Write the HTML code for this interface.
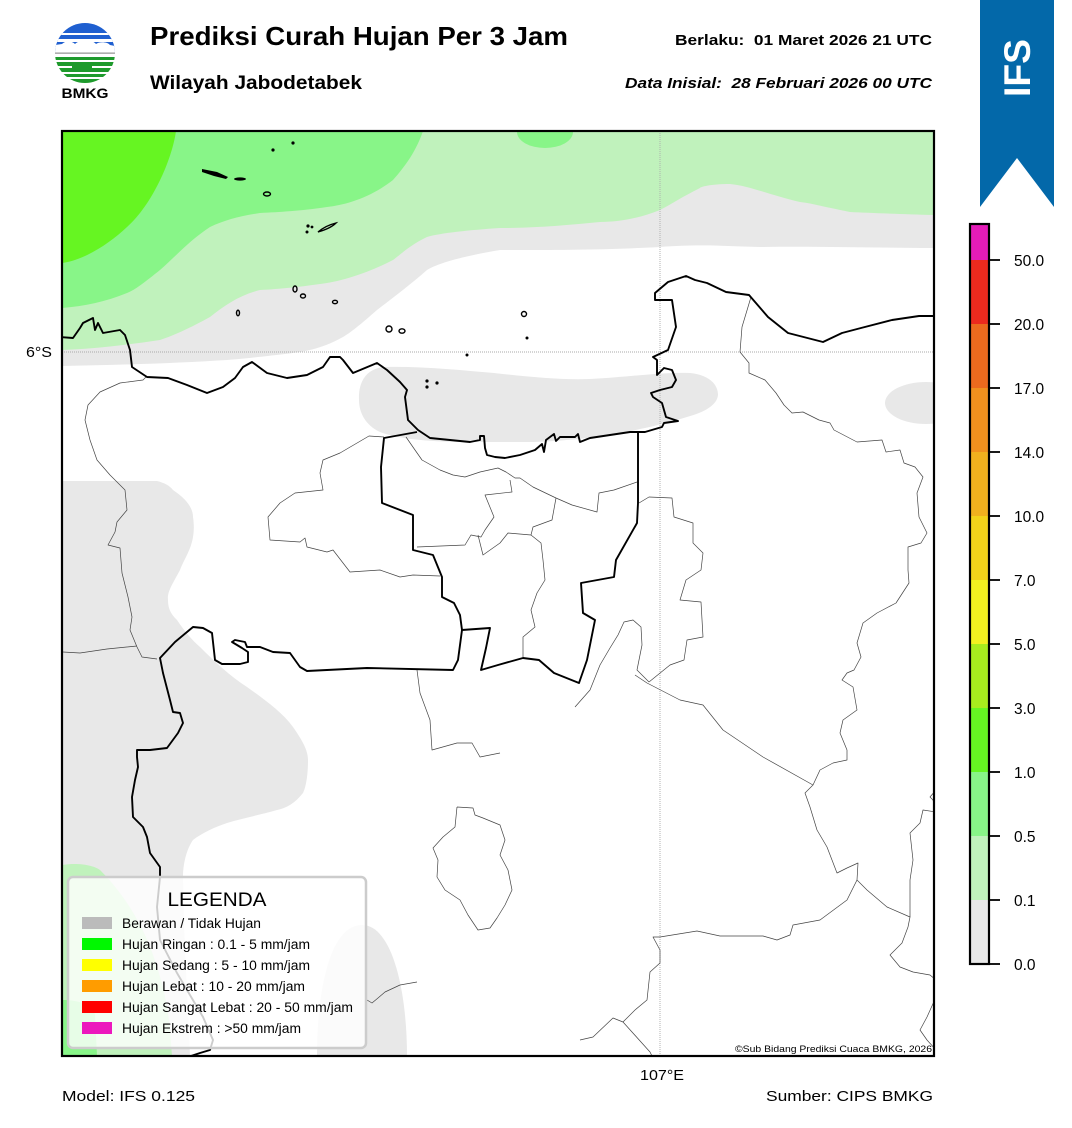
<!DOCTYPE html>
<html><head><meta charset="utf-8"><style>
html,body{margin:0;padding:0;background:#fff;}
svg{display:block;font-family:"Liberation Sans",Arial,sans-serif;}
</style></head><body>
<svg width="1072" height="1128" viewBox="0 0 1072 1128" xmlns="http://www.w3.org/2000/svg">
<defs>
<clipPath id="mapclip"><rect x="62" y="131" width="872" height="925"/></clipPath>
<clipPath id="logoclip"><circle cx="85" cy="53" r="30"/></clipPath>
</defs>
<rect width="1072" height="1128" fill="#fff"/>

<!-- Logo -->
<g clip-path="url(#logoclip)">
<rect x="55" y="23" width="60" height="30" fill="#1f5fd0"/>
<rect x="55" y="33" width="60" height="2" fill="#fff"/>
<rect x="55" y="39" width="60" height="3" fill="#fff"/>
<path d="M55,45 L62,44 C66,40 72,41 75,44 C80,39 92,39 96,44 C100,41 108,42 110,45 L115,46 L115,53 L55,53 Z" fill="#fff"/>
<rect x="55" y="52.5" width="60" height="1.3" fill="#9a9a9a"/>
<rect x="55" y="54" width="60" height="30" fill="#fff"/>
<rect x="55" y="57" width="60" height="3" fill="#1e9a2c"/>
<rect x="55" y="62" width="60" height="4" fill="#1e9a2c"/>
<rect x="55" y="68" width="60" height="4" fill="#1e9a2c"/>
<rect x="72" y="66" width="20" height="2" fill="#1e9a2c"/>
<rect x="55" y="74" width="60" height="3" fill="#1e9a2c"/>
<rect x="55" y="79" width="60" height="4" fill="#1e9a2c"/>
<rect x="62" y="72" width="15" height="2" fill="#fff"/>
</g>
<text x="85" y="98" font-size="14" font-weight="bold" text-anchor="middle" textLength="47" lengthAdjust="spacingAndGlyphs">BMKG</text>

<!-- Header -->
<text x="150" y="45" font-size="26" font-weight="bold" textLength="418" lengthAdjust="spacingAndGlyphs">Prediksi Curah Hujan Per 3 Jam</text>
<text x="150" y="89" font-size="19" font-weight="bold" textLength="212" lengthAdjust="spacingAndGlyphs">Wilayah Jabodetabek</text>
<text x="932" y="45" font-size="15" font-weight="bold" text-anchor="end" textLength="257" lengthAdjust="spacingAndGlyphs">Berlaku:&#160; 01 Maret 2026 21 UTC</text>
<text x="932" y="88" font-size="15" font-weight="bold" font-style="italic" text-anchor="end" textLength="307" lengthAdjust="spacingAndGlyphs">Data Inisial:&#160; 28 Februari 2026 00 UTC</text>

<!-- IFS banner -->
<polygon points="980,0 1054,0 1054,207 1017,158 980,207" fill="#0368a9"/>
<text transform="translate(1030,68) rotate(-90)" font-size="37" font-weight="bold" fill="#fff" text-anchor="middle" textLength="58" lengthAdjust="spacingAndGlyphs">IFS</text>

<!-- Map -->
<g clip-path="url(#mapclip)">
<rect x="62" y="131" width="872" height="925" fill="#fff"/>
<path d="M62,131 L934,131 L934,248 C880,248 820,246 760,247 C720,246 700,244 660,247 C600,250 560,250 500,250 C470,255 440,262 427,270 C410,285 390,300 377,310 C360,325 350,333 343,337 C320,350 300,352 293,353 C260,357 240,359 227,360 C180,363 120,365 62,366 Z" fill="#e8e8e8"/>
<path d="M62,131 L934,131 L934,215 C900,214 870,213 850,212 C820,206 810,203 800,202 C770,195 750,186 730,184 C710,184 700,187 700,188 C680,198 670,205 660,210 C640,218 620,222 600,222 C560,226 530,228 500,228 C470,230 440,233 427,237 C410,245 400,255 393,260 C370,272 345,280 327,283 C300,287 280,289 260,290 C240,295 225,305 210,317 C190,328 175,335 160,340 C120,346 90,349 62,350 Z" fill="#c0f2bc"/>
<path d="M62,131 L423,131 C415,155 400,172 393,180 C370,198 345,205 327,207 C300,211 280,212 260,213 C240,216 225,220 210,227 C190,240 175,257 160,270 C145,282 135,290 127,293 C105,302 85,306 62,308 Z" fill="#88f588"/>
<ellipse cx="545" cy="132" rx="28" ry="16" fill="#88f588"/>
<path d="M62,131 L176,131 C172,160 152,205 127,227 C110,243 85,260 62,263 Z" fill="#66f522"/>
<path d="M359,400 C358,380 368,368 385,367 C420,366 460,370 494,373 C530,377 560,380 590,379 C630,377 660,372 690,373 C710,375 718,385 718,395 C717,405 705,412 687,417 C670,422 655,426 640,429 C610,436 570,441 533,442 L456,442 C420,441 395,438 380,432 C365,425 359,412 359,400 Z" fill="#e8e8e8"/>
<ellipse cx="926" cy="403" rx="41" ry="21" fill="#e8e8e8"/>
<path d="M62,481 L157,481 C165,483 170,486 173,490 C185,498 193,507 193,517 C195,530 193,540 190,548 C186,558 183,562 180,570 C172,585 167,592 168,600 C168,610 172,615 177,620 C185,632 192,640 200,647 C215,662 230,676 247,687 C265,700 282,712 293,727 C302,740 308,750 308,760 C308,775 306,787 303,793 C295,803 287,808 277,810 C260,815 243,818 227,823 C215,827 202,833 193,840 C186,850 183,865 183,877 C184,950 188,1000 190,1056 L62,1056 Z" fill="#e8e8e8"/>
<path d="M317,1056 C317,990 330,925 362,925 C392,925 407,990 407,1056 Z" fill="#e8e8e8"/>
<path d="M62,865 C80,862 95,866 100,870 C125,895 142,925 152,952 C162,980 168,1005 170,1030 L172,1056 L62,1056 Z" fill="#c0f2bc"/>
<path d="M62,1000 C80,1000 93,1005 95,1015 L97,1056 L62,1056 Z" fill="#88f588"/>

<line x1="660" y1="131" x2="660" y2="1056" stroke="#aaa" stroke-width="0.9" stroke-dasharray="1,1"/>
<line x1="62" y1="352" x2="934" y2="352" stroke="#aaa" stroke-width="0.9" stroke-dasharray="1,1"/>

<g fill="none" stroke="#444" stroke-width="0.7" stroke-linejoin="round">
<polyline points="147,376 143,380 120,383 100,392 88,405 85,420 90,440 97,460 110,475 125,490 127,510 117,522 115,532 108,545 120,548 122,573 128,597 132,617 130,630 137,647 142,657 157,659"/>
<polyline points="63,652 80,653 107,649 137,646"/>
<polyline points="384,437 369,436 340,453 323,460 320,473 323,490 295,493 280,503 268,517 270,540 300,542 305,538 307,547 327,552 333,550 350,572 380,570 400,577 413,575 440,576"/>
<polyline points="406,437 415,450 422,460 440,470 453,475 465,477 480,472 498,468 506,472 515,478 520,478 533,487 556,498 572,505 597,512 599,493 614,490 637,482"/>
<polyline points="510,480 512,492 485,495 494,517 485,530 481,537 471,535 465,545 417,547"/>
<polyline points="478,535 483,555 500,543 508,533 531,535 533,527 552,520 556,498"/>
<polyline points="531,535 541,543 543,560 545,580 537,593 531,610 535,627 523,637 523,657"/>
<polyline points="639,503 649,497 672,498 674,517 693,523 693,543 703,553 701,570 686,580 680,600 701,602 703,637 687,640 684,660 670,665 649,682"/>
<polyline points="575,707 590,690 600,665 610,648 618,635 624,622 633,620 641,627 642,645 637,670 649,682"/>
<polyline points="635,675 647,683 680,700 703,705 723,730 763,757 813,785"/>
<polyline points="751,297 742,327 740,352 749,363 749,373 765,380 776,393 784,405 792,413 803,412 819,420 830,423 834,430 857,442 882,440 886,452 900,450 904,463 915,467 923,477 917,493 919,517 927,533 921,543 908,547 908,570 909,583 896,603 877,613 863,623 857,643 861,657 854,670 847,673 842,680 853,687 857,710 843,720 840,733 847,750 847,760 833,763 820,770 813,785 805,793 810,807 817,830 827,847 837,873 847,868 858,863 857,880 867,890 887,907 910,917 908,927 902,943 890,955 900,967 913,972 930,975 936,980"/>
<polyline points="936,790 930,797 933,800 936,812 923,810 920,823 910,833 913,860 910,880 910,900 910,917"/>
<polyline points="857,880 847,900 820,920 793,925 790,935 777,940 763,936 720,936 697,931 660,937 653,937 660,950 660,963 650,972 647,1000 635,1010 623,1022 613,1018 593,1037 580,1040"/>
<polyline points="623,1022 650,1052 653,1058"/>
<polyline points="936,997 927,1017 920,1030 927,1040 936,1050"/>
<polyline points="417,670 420,693 430,720 432,750 457,743 472,743 480,757 500,753"/>
<polyline points="457,807 473,808 475,815 483,818 500,825 505,840 500,855 508,870 512,890 505,905 497,918 490,928 478,930 468,915 460,900 445,890 437,877 438,860 433,848 443,837 455,827 457,807"/>
<polyline points="367,1000 372,1003 378,998 385,992 400,985 417,982"/>
</g>

<g fill="none" stroke="#000" stroke-width="1.9" stroke-linejoin="round">
<polyline points="60,337 73,338 80,328 83,323 93,318 95,330 98,323 103,333 120,330 125,335 130,350 132,367 147,377 168,378 187,385 207,393 223,387 235,378 243,367 252,362 267,373 287,378 307,375 323,367 330,357 340,357 343,360 353,373 377,363 387,370 400,382 407,390 405,397 408,420 418,430 430,438 450,440 470,442 480,440 480,436 484,436 485,448 487,455 495,457 505,458 520,455 535,450 542,444 544,452 546,440 550,437 554,434 556,441 560,437 575,437 578,434 580,442 590,438 610,435 630,432 645,432 662,427 664,423 678,421 666,417 662,403 653,397 651,393 660,390 672,387 676,380 672,370 664,368 657,375 657,360 653,357 668,350 676,327 672,300 655,300 655,293 668,282 686,276 695,280 707,283 726,292 749,295 768,317 788,333 823,342 842,333 861,328 892,320 919,316 936,316"/>
<polyline points="417,432 384,438 381,467 382,503 413,515 413,550 433,555 442,577 442,597 454,603 460,615 462,630 490,628 486,648 481,670 498,665 523,658 539,660 554,673 579,683 587,660 595,620 583,613 581,583 614,577 616,560 637,523 638,503 638,432"/>
<polyline points="462,630 458,660 453,670 367,668 307,671 300,667 290,653 273,652 260,647 247,647 245,642 235,640 232,642 242,648 248,652 248,662 240,664 222,664 215,660 212,633 203,628 193,627 187,632 175,642 160,658 163,673 170,700 173,712 180,713 183,723 178,733 167,748 150,750 137,750 137,757 138,767 135,780 132,797 133,817 143,827 147,837 150,853 160,867 160,877 157,907 160,940 177,973 187,990 203,1017 213,1040 210,1050 200,1053 185,1058"/>
</g>

<g fill="#000">
<circle cx="273" cy="150" r="1.6"/><circle cx="293" cy="143" r="1.6"/>
<path d="M202,169 L217,172 L228,177 L226,179 L214,176 L202,172 Z"/>
<ellipse cx="240" cy="179" rx="6" ry="1.6"/>
<circle cx="308" cy="226" r="1.6"/><circle cx="307" cy="232" r="1.5"/><circle cx="312" cy="227" r="1.4"/>
<circle cx="467" cy="355" r="1.5"/><circle cx="527" cy="338" r="1.5"/>
<circle cx="427" cy="381" r="1.6"/><circle cx="427" cy="387" r="1.6"/><circle cx="437" cy="383" r="1.6"/>
</g>
<g fill="none" stroke="#000" stroke-width="1.4">
<ellipse cx="267" cy="194" rx="3.5" ry="2"/>
<path d="M318,232 C325,226 332,224 336,223 C332,227 325,230 318,232 Z"/>
<ellipse cx="295" cy="289" rx="2" ry="3"/>
<ellipse cx="303" cy="296" rx="2.5" ry="2"/>
<ellipse cx="335" cy="302" rx="2.5" ry="1.7"/>
<ellipse cx="238" cy="313" rx="1.5" ry="2.8"/>
<ellipse cx="389" cy="329" rx="3" ry="3"/>
<ellipse cx="402" cy="331" rx="3" ry="2.2"/>
<ellipse cx="524" cy="314" rx="2.5" ry="2.5"/>
</g>

<rect x="68" y="877" width="298" height="171" rx="5" ry="5" fill="#fff" fill-opacity="0.8" stroke="#cccccc" stroke-width="2.5"/>
<text x="217" y="906" font-size="19" text-anchor="middle" textLength="99" lengthAdjust="spacingAndGlyphs">LEGENDA</text>
<rect x="82" y="917" width="30" height="12" fill="#bbbbbb"/>
<rect x="82" y="938" width="30" height="12" fill="#00f800"/>
<rect x="82" y="959" width="30" height="12" fill="#ffff00"/>
<rect x="82" y="980" width="30" height="12" fill="#ff9c00"/>
<rect x="82" y="1001" width="30" height="12" fill="#ff0000"/>
<rect x="82" y="1022" width="30" height="12" fill="#ec18bd"/>
<g font-size="13.5">
<text x="122" y="928" textLength="139" lengthAdjust="spacingAndGlyphs">Berawan / Tidak Hujan</text>
<text x="122" y="949" textLength="188" lengthAdjust="spacingAndGlyphs">Hujan Ringan : 0.1 - 5 mm/jam</text>
<text x="122" y="970" textLength="188" lengthAdjust="spacingAndGlyphs">Hujan Sedang : 5 - 10 mm/jam</text>
<text x="122" y="991" textLength="183" lengthAdjust="spacingAndGlyphs">Hujan Lebat : 10 - 20 mm/jam</text>
<text x="122" y="1012" textLength="231" lengthAdjust="spacingAndGlyphs">Hujan Sangat Lebat : 20 - 50 mm/jam</text>
<text x="122" y="1033" textLength="179" lengthAdjust="spacingAndGlyphs">Hujan Ekstrem : &gt;50 mm/jam</text>
</g>
<text x="932" y="1052" font-size="9.5" text-anchor="end" textLength="197" lengthAdjust="spacingAndGlyphs">©Sub Bidang Prediksi Cuaca BMKG, 2026</text>
</g>
<rect x="62" y="131" width="872" height="925" fill="none" stroke="#000" stroke-width="2.2"/>

<text x="26" y="357" font-size="15" textLength="26" lengthAdjust="spacingAndGlyphs">6°S</text>
<text x="662" y="1080" font-size="15" text-anchor="middle" textLength="44" lengthAdjust="spacingAndGlyphs">107°E</text>
<text x="62" y="1101" font-size="15" textLength="133" lengthAdjust="spacingAndGlyphs">Model: IFS 0.125</text>
<text x="933" y="1101" font-size="15" text-anchor="end" textLength="167" lengthAdjust="spacingAndGlyphs">Sumber: CIPS BMKG</text>

<rect x="970" y="224" width="19" height="36" fill="#e41cb8"/>
<rect x="970" y="260" width="19" height="64" fill="#ec2a1e"/>
<rect x="970" y="324" width="19" height="64" fill="#ec6a1e"/>
<rect x="970" y="388" width="19" height="64" fill="#f0901e"/>
<rect x="970" y="452" width="19" height="64" fill="#f0b01e"/>
<rect x="970" y="516" width="19" height="64" fill="#f2d21a"/>
<rect x="970" y="580" width="19" height="64" fill="#f2f020"/>
<rect x="970" y="644" width="19" height="64" fill="#a8ec1e"/>
<rect x="970" y="708" width="19" height="64" fill="#66f522"/>
<rect x="970" y="772" width="19" height="64" fill="#88f588"/>
<rect x="970" y="836" width="19" height="64" fill="#c0f2bc"/>
<rect x="970" y="900" width="19" height="64" fill="#e8e8e8"/>
<rect x="970" y="224" width="19" height="740" fill="none" stroke="#000" stroke-width="2.2"/>
<g stroke="#000" stroke-width="1.8">
<line x1="989" y1="260" x2="1000" y2="260"/><line x1="989" y1="324" x2="1000" y2="324"/>
<line x1="989" y1="388" x2="1000" y2="388"/><line x1="989" y1="452" x2="1000" y2="452"/>
<line x1="989" y1="516" x2="1000" y2="516"/><line x1="989" y1="580" x2="1000" y2="580"/>
<line x1="989" y1="644" x2="1000" y2="644"/><line x1="989" y1="708" x2="1000" y2="708"/>
<line x1="989" y1="772" x2="1000" y2="772"/><line x1="989" y1="836" x2="1000" y2="836"/>
<line x1="989" y1="900" x2="1000" y2="900"/><line x1="989" y1="964" x2="1000" y2="964"/>
</g>
<g font-size="15.5">
<text x="1014" y="266">50.0</text>
<text x="1014" y="330">20.0</text>
<text x="1014" y="394">17.0</text>
<text x="1014" y="458">14.0</text>
<text x="1014" y="522">10.0</text>
<text x="1014" y="586">7.0</text>
<text x="1014" y="650">5.0</text>
<text x="1014" y="714">3.0</text>
<text x="1014" y="778">1.0</text>
<text x="1014" y="842">0.5</text>
<text x="1014" y="906">0.1</text>
<text x="1014" y="970">0.0</text>
</g>
</svg>
</body></html>
